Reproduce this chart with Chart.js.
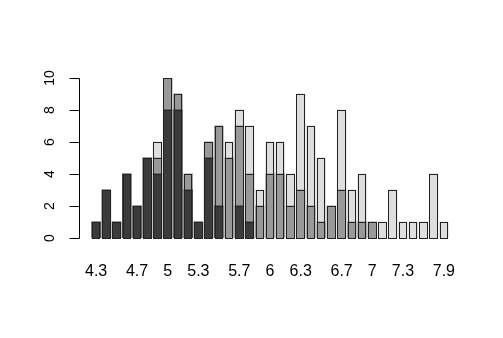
<!DOCTYPE html>
<html>
<head>
<meta charset="utf-8">
<script src="https://cdn.jsdelivr.net/npm/chart.js@4"></script>
<style>
  html, body { margin: 0; padding: 0; background: #fff; }
  #wrap { width: 503px; height: 338px; }
</style>
</head>
<body>
<div id="wrap"><canvas id="grafico" width="503" height="338"></canvas></div>
<script>
// sepal length values (categories)
const comprimentos = ['4.3','4.4','4.5','4.6','4.7','4.8','4.9','5','5.1','5.2','5.3','5.4','5.5','5.6','5.7','5.8','5.9',
  '6','6.1','6.2','6.3','6.4','6.5','6.6','6.7','6.8','6.9','7','7.1','7.2','7.3','7.4','7.6','7.7','7.9'];

// counts per group, stacked bottom to top
const setosa     = [1,3,1,4,2,5,4,8,8,3,1,5,2,0,2,1,0,0,0,0,0,0,0,0,0,0,0,0,0,0,0,0,0,0,0];
const versicolor = [0,0,0,0,0,0,1,2,1,1,0,1,5,5,5,3,2,4,4,2,3,2,1,2,3,1,1,1,0,0,0,0,0,0,0];
const virginica  = [0,0,0,0,0,0,1,0,0,0,0,0,0,1,1,3,1,2,2,2,6,5,4,0,5,2,3,0,1,3,1,1,1,4,1];

// labels that actually show under the axis
const rotulosX = ['4.3','4.7','5','5.3','5.7','6','6.3','6.7','7','7.3','7.9'];
const ticksY = [0, 2, 4, 6, 8, 10];

function semZero(lista) {
  return lista.map(v => v === 0 ? null : v);
}

// outline each bar segment with a thin dark line, like R's barplot
const contornos = {
  id: 'contornos',
  afterDatasetsDraw(chart) {
    const ctx = chart.ctx;
    ctx.save();
    ctx.strokeStyle = '#222';
    ctx.lineWidth = 1;
    chart.data.datasets.forEach((ds, i) => {
      chart.getDatasetMeta(i).data.forEach((el, j) => {
        if (ds.data[j] == null) return;
        const p = el.getProps(['x', 'y', 'base', 'width'], true);
        const esq = Math.round(p.x - p.width / 2) + 0.5;
        const dir = Math.round(p.x + p.width / 2) - 0.5;
        const topo = Math.round(Math.min(p.y, p.base)) + 0.5;
        const baixo = Math.round(Math.max(p.y, p.base)) + 0.5;
        ctx.strokeRect(esq, topo, dir - esq, baixo - topo);
      });
    });
    ctx.restore();
  }
};

const eixosR = {
  id: 'eixosR',
  afterDraw(chart) {
    const ctx = chart.ctx;
    const y = chart.scales.y;
    const x = chart.scales.x;
    const linhaX = 79.5;
    ctx.save();
    ctx.strokeStyle = '#000';
    ctx.lineWidth = 1;
    ctx.beginPath();
    ctx.moveTo(linhaX, Math.round(y.getPixelForValue(ticksY[0])) + 0.5);
    ctx.lineTo(linhaX, Math.round(y.getPixelForValue(ticksY[ticksY.length - 1])) + 0.5);
    ticksY.forEach(t => {
      const py = Math.round(y.getPixelForValue(t)) + 0.5;
      ctx.moveTo(linhaX, py);
      ctx.lineTo(linhaX - 10, py);
    });
    ctx.stroke();

    ctx.fillStyle = '#000';
    ctx.font = '14px "Liberation Sans", Arial, sans-serif';
    ctx.textAlign = 'center';
    ctx.textBaseline = 'middle';
    ticksY.forEach(t => {
      const py = y.getPixelForValue(t);
      ctx.save();
      ctx.translate(50, py);
      ctx.rotate(-Math.PI / 2);
      ctx.fillText(String(t), 0, 0);
      ctx.restore();
    });

    ctx.font = '16px "Liberation Sans", Arial, sans-serif';
    ctx.textBaseline = 'alphabetic';
    rotulosX.forEach(r => {
      const i = comprimentos.indexOf(r);
      ctx.fillText(r, x.getPixelForValue(i), 276);
    });
    ctx.restore();
  }
};

document.addEventListener('DOMContentLoaded', function () {
  const ctx = document.getElementById('grafico').getContext('2d');
  const estilo = { borderWidth: 0, inflateAmount: 0.5,
                   barPercentage: 1 / 1.2, categoryPercentage: 1 };
  new Chart(ctx, {
    type: 'bar',
    data: {
      labels: comprimentos,
      datasets: [
        Object.assign({ label: 'setosa', data: semZero(setosa), backgroundColor: '#3b3b3b' }, estilo),
        Object.assign({ label: 'versicolor', data: semZero(versicolor), backgroundColor: '#999999' }, estilo),
        Object.assign({ label: 'virginica', data: semZero(virginica), backgroundColor: '#dedede' }, estilo)
      ]
    },
    options: {
      responsive: false,
      animation: false,
      layout: { padding: { left: 91, right: 54, top: 78, bottom: 100 } },
      plugins: { legend: { display: false }, tooltip: { enabled: false } },
      scales: {
        x: { stacked: true, display: false },
        y: { stacked: true, display: false, min: 0, max: 10 }
      }
    },
    plugins: [contornos, eixosR]
  });
});
</script>
</body>
</html>
